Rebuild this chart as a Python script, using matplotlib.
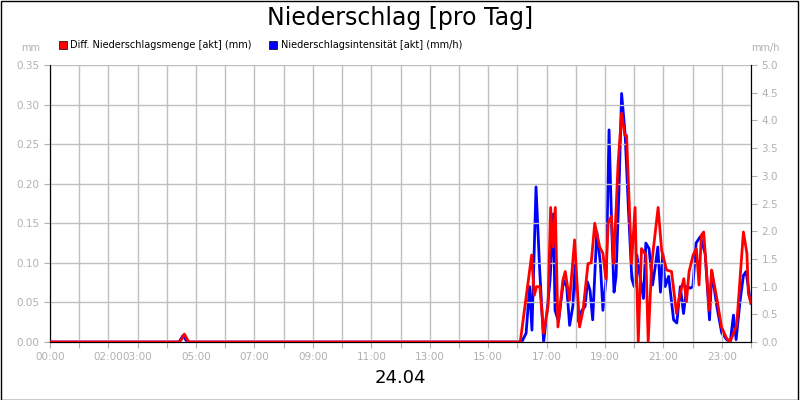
import matplotlib
matplotlib.use("Agg")
import matplotlib.pyplot as plt
from matplotlib.patches import Rectangle

red_t = [0, 4.45, 4.6, 4.75, 16.10, 16.49, 16.58, 16.66, 16.77, 16.90, 17.05, 17.14, 17.22, 17.30, 17.39, 17.56, 17.64, 17.79, 17.96, 18.13, 18.25, 18.42, 18.53, 18.65, 18.82, 18.93, 19.03, 19.11, 19.22, 19.30, 19.45, 19.57, 19.68, 19.74, 19.91, 20.03, 20.14, 20.25, 20.40, 20.48, 20.60, 20.82, 20.94, 21.11, 21.28, 21.45, 21.56, 21.70, 21.79, 21.88, 22.02, 22.13, 22.22, 22.30, 22.38, 22.57, 22.65, 22.82, 22.99, 23.16, 23.28, 23.51, 23.74, 23.86, 23.91, 24.0]
red_v = [0, 0, 0.010, 0, 0, 0.110, 0.059, 0.070, 0.070, 0.011, 0.045, 0.170, 0.120, 0.170, 0.019, 0.078, 0.089, 0.053, 0.129, 0.019, 0.040, 0.099, 0.100, 0.150, 0.120, 0.112, 0.080, 0.150, 0.159, 0.099, 0.226, 0.289, 0.261, 0.261, 0.099, 0.170, 0.0, 0.118, 0.110, 0.0, 0.099, 0.170, 0.116, 0.091, 0.089, 0.036, 0.059, 0.080, 0.051, 0.089, 0.110, 0.118, 0.072, 0.135, 0.139, 0.040, 0.091, 0.057, 0.019, 0.005, 0.0, 0.021, 0.139, 0.112, 0.061, 0.050]

blue_t = [0, 4.42, 4.55, 4.7, 16.15, 16.30, 16.42, 16.50, 16.64, 16.76, 16.90, 17.01, 17.12, 17.24, 17.29, 17.41, 17.58, 17.69, 17.79, 17.90, 17.98, 18.09, 18.21, 18.32, 18.40, 18.49, 18.58, 18.72, 18.84, 18.93, 19.04, 19.14, 19.23, 19.31, 19.38, 19.48, 19.57, 19.69, 19.80, 19.92, 20.00, 20.09, 20.20, 20.32, 20.40, 20.51, 20.63, 20.72, 20.81, 20.90, 20.98, 21.06, 21.18, 21.35, 21.46, 21.58, 21.69, 21.80, 21.92, 22.01, 22.12, 22.26, 22.43, 22.58, 22.66, 22.83, 23.00, 23.17, 23.29, 23.40, 23.49, 23.63, 23.74, 23.83, 23.99]
blue_mm = [0, 0, 0.008, 0, 0, 0.011, 0.070, 0.015, 0.196, 0.095, 0.0, 0.036, 0.078, 0.162, 0.040, 0.026, 0.078, 0.070, 0.021, 0.045, 0.099, 0.026, 0.040, 0.045, 0.076, 0.065, 0.028, 0.139, 0.101, 0.040, 0.080, 0.268, 0.146, 0.063, 0.083, 0.192, 0.314, 0.263, 0.171, 0.080, 0.070, 0.110, 0.083, 0.055, 0.125, 0.118, 0.072, 0.095, 0.120, 0.063, 0.112, 0.070, 0.083, 0.028, 0.024, 0.070, 0.036, 0.070, 0.068, 0.070, 0.125, 0.133, 0.112, 0.028, 0.089, 0.045, 0.011, 0.003, 0.0, 0.034, 0.003, 0.053, 0.084, 0.089, 0.049]
blue_v = [v * 5.0 / 0.35 for v in blue_mm]  # mm/h

hour_ticks = list(range(25))
tick_labels = {0: "00:00", 2: "02:00", 3: "03:00", 5: "05:00", 7: "07:00", 9: "09:00", 11: "11:00",
               13: "13:00", 15: "15:00", 17: "17:00", 19: "19:00", 21: "21:00", 23: "23:00"}

fig = plt.figure(figsize=(8, 4), dpi=100)
fig.patches.append(Rectangle((0.001, 0.001), 0.997, 0.997, transform=fig.transFigure,
                             fill=False, edgecolor="black", linewidth=1))
ax = fig.add_axes([50/800, 1-342/400, 701/800, 277/400])
ax2 = ax.twinx()
grey = "#b0b0b0"
ax.set_xlim(0, 24)
ax.set_ylim(0, 0.35)
ax2.set_ylim(0, 5.0)
ax.set_xticks(hour_ticks)
ax.set_xticklabels([tick_labels.get(h, "") for h in hour_ticks])
ax.set_yticks([i * 0.05 for i in range(8)])
ax.set_yticklabels([f"{i*0.05:.2f}" for i in range(8)])
ax2.set_yticks([i * 0.5 for i in range(11)])
ax2.set_yticklabels([f"{i*0.5:.1f}" for i in range(11)])
for a in (ax, ax2):
    a.tick_params(colors=grey, labelcolor=grey, labelsize=7.5, length=4)
ax.grid(True, color="#c0c0c0", linewidth=1)
ax.set_axisbelow(True)
ax2.plot(blue_t, blue_v, color="#0000ff", linewidth=2, zorder=2)
ax.set_zorder(ax2.get_zorder() + 1)
ax.patch.set_visible(False)
ax.plot(red_t, red_v, color="#ff0000", linewidth=2, zorder=3)
ax.spines["top"].set_visible(False)
ax2.spines["top"].set_visible(False)

fig.text(0.5, 1-18/400, "Niederschlag [pro Tag]", ha="center", va="center", fontsize=17)
fig.text(0.5, 1-378/400, "24.04", ha="center", va="center", fontsize=13)
fig.text(40/800, 1-48/400, "mm", ha="right", va="center", fontsize=7, color=grey)
fig.text(765/800, 1-48/400, "mm/h", ha="center", va="center", fontsize=7, color=grey)
fig.patches.append(Rectangle((59/800, 1-49/400), 8/800, 8/400, transform=fig.transFigure,
                             facecolor="#ff0000", edgecolor="black", linewidth=0.5))
fig.text(70/800, 1-45/400, "Diff. Niederschlagsmenge [akt] (mm)", va="center", fontsize=7)
fig.patches.append(Rectangle((269/800, 1-49/400), 8/800, 8/400, transform=fig.transFigure,
                             facecolor="#0000ff", edgecolor="black", linewidth=0.5))
fig.text(281/800, 1-45/400, "Niederschlagsintensität [akt] (mm/h)", va="center", fontsize=7)
fig.savefig("out.png", dpi=100)
